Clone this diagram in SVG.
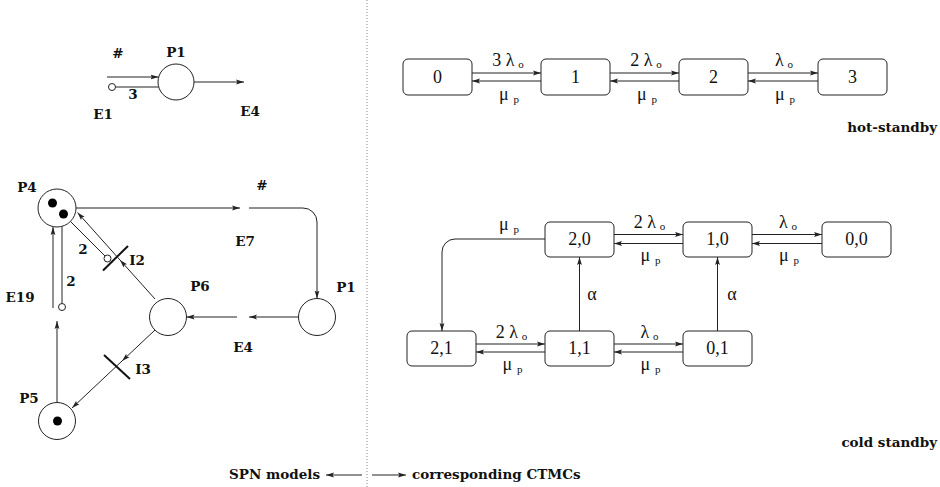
<svg xmlns="http://www.w3.org/2000/svg" width="940" height="487" viewBox="0 0 940 487">
  <style>
    .ln { fill: none; stroke: #222; stroke-width: 1; }
    .arr { fill: none; stroke: #222; stroke-width: 1; marker-end: url(#ah); }
    .place { fill: #fff; stroke: #222; stroke-width: 1; }
    .tok { fill: #000; }
    .inh { fill: #fff; stroke: #222; stroke-width: 1; }
    .bar { stroke: #111; stroke-width: 2; }
    .pn { font-family: "DejaVu Serif", "Liberation Serif", serif; font-weight: bold; font-size: 13.5px; fill: #111; }
    .st { fill: #fff; stroke: #222; stroke-width: 1; }
    .sl { font-family: "Liberation Serif", serif; font-size: 18px; fill: #111; text-anchor: middle; }
    .rate { font-family: "Liberation Serif", serif; font-size: 18px; fill: #111; text-anchor: middle; }
    .sub { font-size: 11px; }
    .sep { stroke: #888; stroke-width: 1; stroke-dasharray: 1 2; }
  </style>
  <defs>
    <marker id="ah" markerWidth="9" markerHeight="6" refX="8" refY="3" orient="auto" markerUnits="userSpaceOnUse">
      <path d="M0,0.6 L8,3 L0,5.4 L1.5,3 z" fill="#222"/>
    </marker>
  </defs>

  <!-- separator between SPN models and CTMCs -->
  <line class="sep" x1="367" y1="0" x2="367" y2="487"/>

  <!-- ===== SPN: single place P1 with E1 input and E4 output ===== -->
  <g id="spn-top-P1">
    <circle class="place" cx="176" cy="82" r="18"/>
    <text class="pn" x="176" y="57" text-anchor="middle">P1</text>
  </g>
  <g id="spn-top-labels">
    <text class="pn" x="118" y="58" text-anchor="middle">#</text>
    <text class="pn" x="133" y="99" text-anchor="middle">3</text>
    <text class="pn" x="103" y="119" text-anchor="middle">E1</text>
    <text class="pn" x="250" y="116" text-anchor="middle">E4</text>
  </g>
  <g id="spn-top-arcs">
    <line class="arr" x1="107" y1="77" x2="158.5" y2="77"/>
    <line class="ln" x1="115.5" y1="87" x2="158.7" y2="87"/>
    <circle class="inh" cx="112" cy="87" r="3.5"/>
    <line class="arr" x1="194" y1="82" x2="244" y2="82"/>
  </g>

  <!-- ===== SPN: cycle P4 / P1 / P6 / P5 ===== -->
  <g id="P4">
    <circle class="place" cx="57" cy="208" r="19"/>
    <circle class="tok" cx="52.5" cy="203" r="4.5"/>
    <circle class="tok" cx="63.5" cy="214" r="4.5"/>
    <text class="pn" x="27" y="192" text-anchor="middle">P4</text>
  </g>
  <g id="P1">
    <circle class="place" cx="317" cy="317" r="18.5"/>
    <text class="pn" x="346" y="292" text-anchor="middle">P1</text>
  </g>
  <g id="P6">
    <circle class="place" cx="168" cy="317" r="18.5"/>
    <text class="pn" x="200" y="291" text-anchor="middle">P6</text>
  </g>
  <g id="P5">
    <circle class="place" cx="57" cy="421" r="18.5"/>
    <circle class="tok" cx="57.5" cy="421" r="4.5"/>
    <text class="pn" x="29" y="403" text-anchor="middle">P5</text>
  </g>
  <g id="I2">
    <line class="bar" x1="103" y1="270.5" x2="128" y2="246"/>
    <text class="pn" x="137" y="265" text-anchor="middle">I2</text>
  </g>
  <g id="I3">
    <line class="bar" x1="104" y1="355" x2="130" y2="379"/>
    <text class="pn" x="143" y="374" text-anchor="middle">I3</text>
  </g>

  <g id="spn-arcs">
    <!-- E7: P4 -> P1 -->
    <line class="arr" x1="76" y1="208" x2="240" y2="208"/>
    <path class="arr" d="M249,208 H303 A14,14 0 0 1 317,222 V298.5"/>
    <!-- E4: P1 -> P6 -->
    <line class="arr" x1="298.5" y1="317" x2="249" y2="317"/>
    <line class="arr" x1="237" y1="317" x2="186.5" y2="317"/>
    <!-- I2: P6 -> P4 with inhibitor from P4 -->
    <line class="arr" x1="155" y1="299" x2="120" y2="260"/>
    <line class="arr" x1="120" y1="260" x2="77.5" y2="212.5"/>
    <line class="ln" x1="70.5" y1="221.5" x2="105" y2="256"/>
    <circle class="inh" cx="107.5" cy="258.5" r="3.5"/>
    <!-- I3: P6 -> P5 -->
    <line class="arr" x1="155" y1="330" x2="122" y2="361"/>
    <line class="arr" x1="122" y1="361" x2="72" y2="408"/>
    <!-- E19: P5 -> P4 with inhibitor from P4 -->
    <line class="arr" x1="57" y1="402.5" x2="57" y2="321"/>
    <line class="arr" x1="53" y1="308" x2="53" y2="227"/>
    <line class="ln" x1="62" y1="226.4" x2="62" y2="303.5"/>
    <circle class="inh" cx="62" cy="307" r="3.5"/>
  </g>
  <g id="spn-cycle-labels">
    <text class="pn" x="262" y="190" text-anchor="middle">#</text>
    <text class="pn" x="245" y="246" text-anchor="middle">E7</text>
    <text class="pn" x="243" y="352" text-anchor="middle">E4</text>
    <text class="pn" x="83" y="254" text-anchor="middle">2</text>
    <text class="pn" x="71" y="286" text-anchor="middle">2</text>
    <text class="pn" x="20" y="302" text-anchor="middle">E19</text>
  </g>

  <!-- ===== CTMC: hot standby ===== -->
  <g id="h0"><rect class="st" x="403" y="59" width="69" height="36" rx="5"/><text class="sl" x="437.5" y="83">0</text></g>
  <g id="h1"><rect class="st" x="541" y="59" width="69" height="36" rx="5"/><text class="sl" x="575.5" y="83">1</text></g>
  <g id="h2"><rect class="st" x="679" y="59" width="69" height="36" rx="5"/><text class="sl" x="713.5" y="83">2</text></g>
  <g id="h3"><rect class="st" x="818" y="59" width="69" height="36" rx="5"/><text class="sl" x="852.5" y="83">3</text></g>
  <g id="hot-arcs">
    <line class="arr" x1="472" y1="73" x2="541" y2="73"/>
    <line class="arr" x1="541" y1="81" x2="472" y2="81"/>
    <line class="arr" x1="610" y1="73" x2="679" y2="73"/>
    <line class="arr" x1="679" y1="81" x2="610" y2="81"/>
    <line class="arr" x1="748" y1="73" x2="818" y2="73"/>
    <line class="arr" x1="818" y1="81" x2="748" y2="81"/>
  </g>
  <g id="hot-rates">
    <text class="rate" x="508" y="66">3 λ<tspan class="sub" dx="4" dy="2">o</tspan></text>
    <text class="rate" x="646" y="66">2 λ<tspan class="sub" dx="4" dy="2">o</tspan></text>
    <text class="rate" x="784" y="66">λ<tspan class="sub" dx="4" dy="2">o</tspan></text>
    <text class="rate" x="509" y="100">μ<tspan class="sub" dx="5" dy="3">p</tspan></text>
    <text class="rate" x="647" y="100">μ<tspan class="sub" dx="5" dy="3">p</tspan></text>
    <text class="rate" x="785" y="100">μ<tspan class="sub" dx="5" dy="3">p</tspan></text>
  </g>
  <text class="pn" x="937" y="132" text-anchor="end">hot-standby</text>

  <!-- ===== CTMC: cold standby ===== -->
  <g id="c20"><rect class="st" x="545" y="222" width="69" height="35" rx="5"/><text class="sl" x="579.5" y="245">2,0</text></g>
  <g id="c10"><rect class="st" x="683" y="222" width="69" height="35" rx="5"/><text class="sl" x="717.5" y="245">1,0</text></g>
  <g id="c00"><rect class="st" x="822" y="222" width="69" height="35" rx="5"/><text class="sl" x="856.5" y="245">0,0</text></g>
  <g id="c21"><rect class="st" x="407" y="331" width="69" height="35" rx="5"/><text class="sl" x="441.5" y="354">2,1</text></g>
  <g id="c11"><rect class="st" x="545" y="331" width="69" height="35" rx="5"/><text class="sl" x="579.5" y="354">1,1</text></g>
  <g id="c01"><rect class="st" x="683" y="331" width="69" height="35" rx="5"/><text class="sl" x="717.5" y="354">0,1</text></g>
  <g id="cold-arcs">
    <line class="arr" x1="614" y1="234.5" x2="683" y2="234.5"/>
    <line class="arr" x1="683" y1="243.5" x2="614" y2="243.5"/>
    <line class="arr" x1="752" y1="234.5" x2="822" y2="234.5"/>
    <line class="arr" x1="822" y1="243.5" x2="752" y2="243.5"/>
    <line class="arr" x1="476" y1="344" x2="545" y2="344"/>
    <line class="arr" x1="545" y1="352" x2="476" y2="352"/>
    <line class="arr" x1="614" y1="344" x2="683" y2="344"/>
    <line class="arr" x1="683" y1="352" x2="614" y2="352"/>
    <line class="arr" x1="579.5" y1="331" x2="579.5" y2="257"/>
    <line class="arr" x1="717.5" y1="331" x2="717.5" y2="257"/>
    <path class="arr" d="M545,239 H455 A13,13 0 0 0 442,252 V331"/>
  </g>
  <g id="cold-rates">
    <text class="rate" x="509" y="230">μ<tspan class="sub" dx="5" dy="3">p</tspan></text>
    <text class="rate" x="649.5" y="228">2 λ<tspan class="sub" dx="4" dy="2">o</tspan></text>
    <text class="rate" x="788" y="228">λ<tspan class="sub" dx="4" dy="2">o</tspan></text>
    <text class="rate" x="650.5" y="261">μ<tspan class="sub" dx="5" dy="3">p</tspan></text>
    <text class="rate" x="789" y="261">μ<tspan class="sub" dx="5" dy="3">p</tspan></text>
    <text class="rate" x="511.5" y="337.5">2 λ<tspan class="sub" dx="4" dy="2">o</tspan></text>
    <text class="rate" x="649.5" y="337.5">λ<tspan class="sub" dx="4" dy="2">o</tspan></text>
    <text class="rate" x="512.5" y="370">μ<tspan class="sub" dx="5" dy="3">p</tspan></text>
    <text class="rate" x="650.5" y="370">μ<tspan class="sub" dx="5" dy="3">p</tspan></text>
    <text class="rate" x="592" y="300">α</text>
    <text class="rate" x="732" y="300">α</text>
  </g>
  <text class="pn" x="937" y="447" text-anchor="end">cold standby</text>

  <!-- footer -->
  <g id="footer">
    <text class="pn" x="320" y="479" text-anchor="end">SPN models</text>
    <line class="arr" x1="362" y1="475" x2="326" y2="475"/>
    <line class="arr" x1="372" y1="475" x2="406" y2="475"/>
    <text class="pn" x="412" y="479">corresponding CTMCs</text>
  </g>
</svg>
